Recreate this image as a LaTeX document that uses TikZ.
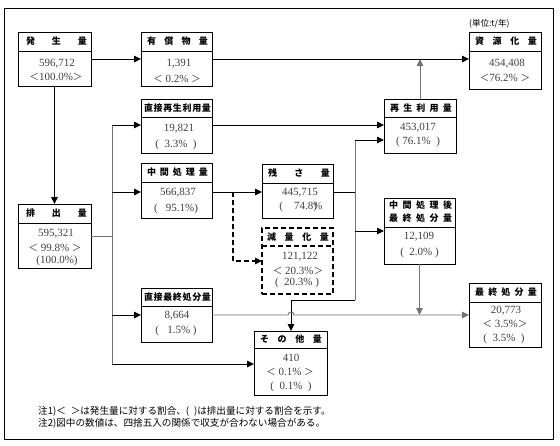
\documentclass[tikz,border=0pt]{standalone}
\usepackage{fontspec}
\setmainfont{Liberation Serif}
\newfontfamily\jp{Noto Sans CJK JP}
\usetikzlibrary{arrows.meta}
\newcommand\myLT{{\jp\fontsize{9.5}{9.5}\selectfont ＜}}
\newcommand\myGT{{\jp\fontsize{9.5}{9.5}\selectfont ＞}}
\newcommand\hsp[2]{\makebox[#1pt]{#2}}
\newcommand\mkbox[7]{%
  \node[box,#7,minimum width={(#4)-(#2)},minimum height={(#5)-(#3)}] (#1) at ({((#2)+(#4))/2},{((#3)+(#5))/2}) {};
  \draw[#7] (#2,#6) -- (#4,#6);
}
\begin{document}
\begin{tikzpicture}[x=1pt,y=-1pt,
  box/.style={draw,inner sep=0pt,outer sep=0pt,line width=1pt},
  nbox/.style={line width=1pt},
  dbox/.style={line width=1.8pt,dash pattern=on 5pt off 3pt},
  hdr/.style={inner sep=0pt,font=\jp\bfseries\fontsize{9}{9}\selectfont},
  bt/.style={inner sep=0pt,font=\fontsize{11}{11}\selectfont,text=black!75},
  note/.style={inner sep=0pt,anchor=west,font=\jp\fontsize{9.6}{9.6}\selectfont},
  ln/.style={line width=0.9pt},
  arr/.style={ln,-{Triangle[length=7pt,width=6.5pt]}},
  gl/.style={ln,draw=black!55},
  garr/.style={arr,draw=black!55},
  darr/.style={arr,line width=1.4pt,dash pattern=on 5pt off 3pt},
]
\useasboundingbox (0,0) rectangle (560,445);
\fill[white] (0,0) rectangle (560,445);
\draw[line width=1pt] (4,8) rectangle (553,439);

% boxes
\mkbox{hassei}{18}{32}{91}{86}{51}{nbox}
\mkbox{yusho}{141}{32}{212}{86}{51}{nbox}
\mkbox{shigen}{469}{32}{541}{89}{51}{nbox}
\mkbox{chokusai}{141}{99}{212}{153}{117}{nbox}
\mkbox{saisei}{384}{99}{456}{153}{117}{nbox}
\mkbox{chukan}{141}{163}{212}{218}{182}{nbox}
\mkbox{zansa}{262}{164}{333}{218}{183}{nbox}
\mkbox{genryo}{262}{228}{333}{294}{246}{dbox}
\mkbox{chukango}{384}{198}{455}{264}{227}{nbox}
\mkbox{haishutsu}{18}{204}{91}{268}{223}{nbox}
\mkbox{chokusaishu}{141}{288}{212}{342}{306}{nbox}
\mkbox{saishu}{469}{283}{541}{347}{302}{nbox}
\mkbox{sonota}{254}{331}{327}{395}{348}{nbox}

% headers
\node[hdr] (hassei-h) at (56.5,41.5) {\hsp{61}{発\hfill 生\hfill 量}};
\node[hdr] (yusho-h) at (177.5,41.5) {\hsp{61}{有\hfill 償\hfill 物\hfill 量}};
\node[hdr] (shigen-h) at (506,41.5) {\hsp{62}{資\hfill 源\hfill 化\hfill 量}};
\node[hdr] (chokusai-h) at (177.5,108) {\hsp{67}{直\hfill 接\hfill 再\hfill 生\hfill 利\hfill 用\hfill 量}};
\node[hdr] (saisei-h) at (421,108) {\hsp{62}{再\hfill 生\hfill 利\hfill 用\hfill 量}};
\node[hdr] (chukan-h) at (177.5,172.5) {\hsp{61}{中\hfill 間\hfill 処\hfill 理\hfill 量}};
\node[hdr] (zansa-h) at (299,173.5) {\hsp{62}{残\hfill さ\hfill 量}};
\node[hdr] (genryo-h) at (298,237) {\hsp{62}{減\hfill 量\hfill 化\hfill 量}};
\node[hdr] (chukango-h1) at (420.5,205.5) {\hsp{63}{中\hfill 間\hfill 処\hfill 理\hfill 後}};
\node[hdr] (chukango-h2) at (420.5,218.5) {\hsp{63}{最\hfill 終\hfill 処\hfill 分\hfill 量}};
\node[hdr] (haishutsu-h) at (56.5,213.5) {\hsp{61}{排\hfill 出\hfill 量}};
\node[hdr] (chokusaishu-h) at (177.5,297) {\hsp{67}{直\hfill 接\hfill 最\hfill 終\hfill 処\hfill 分\hfill 量}};
\node[hdr] (saishu-h) at (506,292.5) {\hsp{62}{最\hfill 終\hfill 処\hfill 分\hfill 量}};
\node[hdr] (sonota-h) at (291,339.5) {\hsp{62}{そ\hfill の\hfill 他\hfill 量}};

% body texts
\node[bt] (hassei-1) at (57,64) {596,712};
\node[bt] (hassei-2) at (56,77) {\myLT100.0\%\myGT};
\node[bt] (yusho-1) at (179,64) {1,391};
\node[bt] (yusho-2) at (177,79) {\myLT\ 0.2\%\ \myGT};
\node[bt] (shigen-1) at (507,64) {454,408};
\node[bt] (shigen-2) at (505,78) {\myLT76.2\%\ \myGT};
\node[bt] (chokusai-1) at (179,129) {19,821};
\node[bt] (chokusai-2) at (176,145) {(\enspace 3.3\%\enspace)};
\node[bt] (saisei-1) at (418,128) {453,017};
\node[bt] (saisei-2) at (418,142) {( 76.1\%\enspace)};
\node[bt] (chukan-1) at (178,193) {566,837};
\node[bt] (chukan-2) at (176,209) {(\enspace\ 95.1\%)};
\node[bt] (zansa-1) at (300,193) {445,715};
\node[bt] (zansa-2) at (301,207) {(\quad 74.8\rlap{)}\%};
\node[bt] (genryo-1) at (300,257) {121,122};
\node[bt] (genryo-2) at (298,271) {\myLT\ 20.3\%\myGT};
\node[bt] (genryo-3) at (297,283) {(\enspace 20.3\% )};
\node[bt] (chukango-1) at (419,237) {12,109};
\node[bt] (chukango-2) at (419.5,253) {(\enspace 2.0\% )};
\node[bt] (haishutsu-1) at (56,234) {595,321};
\node[bt] (haishutsu-2) at (55,248) {\myLT\ 99.8\%\ \myGT};
\node[bt] (haishutsu-3) at (57,261) {(100.0\%)};
\node[bt] (chokusaishu-1) at (177,316) {8,664};
\node[bt] (chokusaishu-2) at (176,331) {(\enspace\ 1.5\% )};
\node[bt] (saishu-1) at (506,311) {20,773};
\node[bt] (saishu-2) at (505,324) {\myLT\ 3.5\%\myGT};
\node[bt] (saishu-3) at (504,339) {(\enspace 3.5\%\enspace)};
\node[bt] (sonota-1) at (291,358) {410};
\node[bt] (sonota-2) at (290,372) {\myLT\ 0.1\%\ \myGT};
\node[bt] (sonota-3) at (291,387) {(\enspace 0.1\%\enspace)};

% unit and notes
\node[inner sep=0pt,anchor=west,font=\jp\fontsize{8.5}{8.5}\selectfont] (unit) at (469,24) {(単位:t/年)};
\node[note] (note1) at (38,411) {注1)＜\enspace＞は発生量に対する割合、(\enspace)は排出量に対する割合を示す。};
\node[note] (note2) at (38,423) {注2)図中の数値は、四捨五入の関係で収支が合わない場合がある。};

% junction coordinates
\coordinate (tTop) at (112,125);
\coordinate (tChu) at (112,192);
\coordinate (tFin) at (112,315);
\coordinate (tBot) at (112,364);
\coordinate (jA) at (233,192);
\coordinate (jB) at (233,261);
\coordinate (zJ) at (355,192);
\coordinate (zTop) at (355,140);
\coordinate (zMid) at (355,231);
\coordinate (zBot) at (355,300);
\coordinate (zL) at (291,300);
\coordinate (hopL) at (288,315);
\coordinate (hopR) at (294,315);

% connectors
\draw[arr] (hassei.east) -- (yusho.west);
\draw[arr] (yusho.east) -- (yusho.east -| shigen.west);
\draw[garr] (saisei.north) -- (saisei.north |- yusho.east);
\draw[arr] (hassei.south) -- (haishutsu.north);
\draw[gl] (haishutsu.east) -- (haishutsu.east -| tTop);
\draw[gl] (tTop) -- (tBot);
\draw[arr] (tTop) -- (tTop -| chokusai.west);
\draw[arr] (tChu) -- (tChu -| chukan.west);
\draw[arr] (tFin) -- (tFin -| chokusaishu.west);
\draw[arr] (tBot) -- (tBot -| sonota.west);
\draw[arr] (tTop -| chokusai.east) -- (tTop -| saisei.west);
\draw[arr] (tChu -| chukan.east) -- (tChu -| zansa.west);
\draw[darr] (jA) -- (jB) -- (jB -| genryo.west);
\draw[ln] (zJ -| zansa.east) -- (zJ);
\draw[gl] (zTop) -- (zBot);
\draw[arr] (zBot) -- (zL) -- (zL |- sonota.north);
\draw[arr] (zTop) -- (zTop -| saisei.west);
\draw[arr] (zMid) -- (zMid -| chukango.west);
\draw[garr] (tFin -| chokusaishu.east) -- (hopL) .. controls +(0,-4) and +(0,-4) .. (hopR) -- (tFin -| saishu.west);
\draw[garr] (chukango.south) -- (chukango.south |- tFin);
\end{tikzpicture}
\end{document}
